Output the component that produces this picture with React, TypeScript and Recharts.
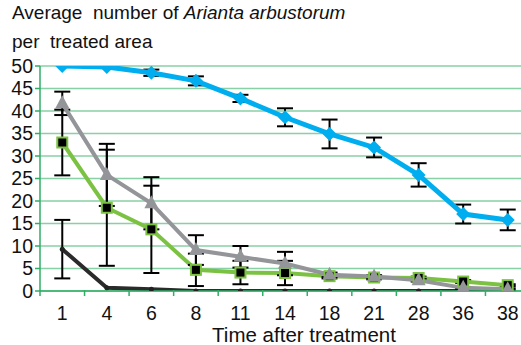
import React from 'react';
import { LineChart, Line, XAxis, YAxis, CartesianGrid, ErrorBar } from 'recharts';

const days = ['1', '4', '6', '8', '11', '14', '18', '21', '28', '36', '38'];
const yTicks = [0, 5, 10, 15, 20, 25, 30, 35, 40, 45, 50];

const blue = [50, 49.8, 48.5, 46.7, 42.8, 38.6, 34.9, 31.9, 25.8, 17.1, 15.8];
const blueErr = [0, 0, 0.7, 1, 0.8, 2.0, 3.2, 2.2, 2.6, 2.1, 2.3];
const gray = [41.7, 25.8, 19.5, 9.1, 7.6, 6.1, 3.6, 3.2, 2.4, 0.7, 0.4];
const grayErr = [2.6, 6.9, 5.8, 3.3, 2.4, 2.6, 0.5, 0.3, 0.3, 0.2, 0.2];
const green = [33.0, 18.5, 13.7, 4.7, 4.1, 4.0, 3.3, 3.0, 2.9, 2.1, 1.3];
const greenErr = [7.3, 12.9, 9.7, 3.6, 2.6, 2.7, 0.5, 0.4, 0.3, 0.3, 0.2];
const black = [9.3, 0.7, 0.4, 0, 0, 0, 0, 0, 0, 0, 0];
const blackErr = [6.5, 0, 0, 0, 0, 0, 0, 0, 0, 0, 0];

const data = days.map((d, i) => ({
  day: d,
  blue: blue[i],
  blueErr: blueErr[i],
  gray: gray[i],
  grayErr: grayErr[i],
  green: green[i],
  greenErr: greenErr[i],
  black: black[i],
  blackErr: blackErr[i],
}));

const FONT = '"Liberation Sans", Arial, sans-serif';
const AXIS_GREEN = '#2fae66';
const GRID_GREEN = '#88d0a6';

const Diamond = (props: any) => {
  const { cx, cy } = props;
  if (cx == null || cy == null) return null;
  const s = 7;
  return <polygon points={`${cx},${cy - s} ${cx + s},${cy} ${cx},${cy + s} ${cx - s},${cy}`} fill="#00aeef" />;
};

const Triangle = (props: any) => {
  const { cx, cy } = props;
  if (cx == null || cy == null) return null;
  return <polygon points={`${cx},${cy - 8} ${cx + 7},${cy + 5} ${cx - 7},${cy + 5}`} fill="#949599" />;
};

const Square = (props: any) => {
  const { cx, cy } = props;
  if (cx == null || cy == null) return null;
  return (
    <g>
      <rect x={cx - 6} y={cy - 6} width={12} height={12} fill="#7cc242" />
      <rect x={cx - 4} y={cy - 4} width={8} height={8} fill="#000" />
    </g>
  );
};

const Dot = (props: any) => {
  const { cx, cy } = props;
  if (cx == null || cy == null) return null;
  return <circle cx={cx} cy={cy} r={2.5} fill="#222" />;
};

const XTick = (props: any) => {
  const { x, y, payload } = props;
  const off = payload && payload.offset ? payload.offset : 22.25;
  return (
    <g>
      <line x1={x - off} y1={y - 1} x2={x - off} y2={y + 5} stroke={AXIS_GREEN} strokeWidth={1.5} />
      <text x={x} y={y + 29} textAnchor="middle" fontSize={19.5} fontFamily={FONT} fill="#111">
        {payload.value}
      </text>
    </g>
  );
};

export default function App() {
  return (
    <div style={{ position: 'absolute', left: 0, top: 0, width: 521, height: 345, overflow: 'hidden', background: '#fff' }}>
      <svg width={521} height={345} style={{ position: 'absolute', left: 0, top: 0 }}>
        <text x={12} y={19} fontSize={19} fontFamily={FONT} fill="#111">
          Average&#160; number of <tspan fontStyle="italic">Arianta arbustorum</tspan>
        </text>
        <text x={12} y={48} fontSize={19} fontFamily={FONT} fill="#111">
          per&#160; treated area
        </text>
        <text x={304} y={342} textAnchor="middle" fontSize={20.5} fontFamily={FONT} fill="#111">
          Time after treatment
        </text>
      </svg>
      <div style={{ position: 'absolute', left: 0, top: 0 }}>
        <LineChart width={530} height={345} data={data} margin={{ top: 66, right: 0, bottom: 0, left: 0 }}>
          <CartesianGrid vertical={false} stroke={GRID_GREEN} strokeWidth={1.5} />
          <XAxis
            dataKey="day"
            scale="band"
            height={54}
            stroke={AXIS_GREEN}
            strokeWidth={1.5}
            tickLine={false}
            tickSize={0}
            tickMargin={0}
            interval={0}
            tick={<XTick />}
          />
          <YAxis
            width={40}
            domain={[0, 50]}
            ticks={yTicks}
            allowDataOverflow
            interval={0}
            stroke={AXIS_GREEN}
            strokeWidth={1.5}
            tickSize={5}
            tickMargin={2}
            tick={{ fill: '#111', fontSize: 19.5, fontFamily: FONT }}
          />
          <Line dataKey="black" stroke="#2b2b2b" strokeWidth={4} dot={<Dot />} activeDot={false} isAnimationActive={false}>
            <ErrorBar dataKey="blackErr" width={8} strokeWidth={2} stroke="#000" direction="y" />
          </Line>
          <Line dataKey="green" stroke="#7cc242" strokeWidth={4} dot={<Square />} activeDot={false} isAnimationActive={false}>
            <ErrorBar dataKey="greenErr" width={8} strokeWidth={2} stroke="#000" direction="y" />
          </Line>
          <Line dataKey="gray" stroke="#949599" strokeWidth={4} dot={<Triangle />} activeDot={false} isAnimationActive={false}>
            <ErrorBar dataKey="grayErr" width={8} strokeWidth={2} stroke="#000" direction="y" />
          </Line>
          <Line dataKey="blue" stroke="#00aeef" strokeWidth={5} dot={<Diamond />} activeDot={false} isAnimationActive={false}>
            <ErrorBar dataKey="blueErr" width={8} strokeWidth={2} stroke="#000" direction="y" />
          </Line>
        </LineChart>
      </div>
    </div>
  );
}
